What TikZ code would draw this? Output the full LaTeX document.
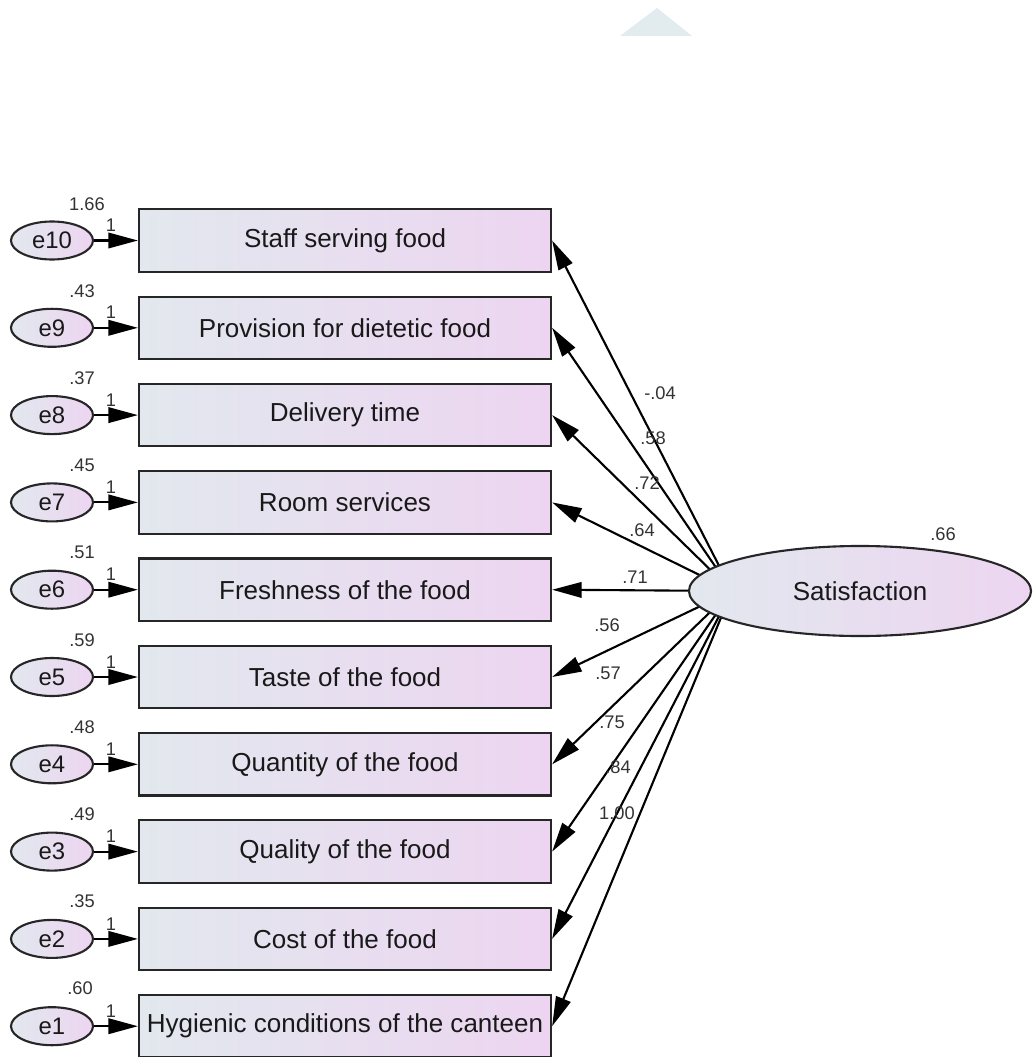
\documentclass[tikz,border=0pt]{standalone}
\usepackage{fontspec}
\setmainfont{Liberation Sans}
\usetikzlibrary{shapes.geometric,arrows.meta,backgrounds}
\definecolor{shadeL}{RGB}{226,232,238}
\definecolor{shadeR}{RGB}{237,213,241}
\definecolor{wmark}{RGB}{226,235,237}
\tikzset{
	obsbox/.style={draw=black!85, line width=1.5pt, rectangle, minimum width=10.3cm, minimum height=1.56cm, inner sep=0pt, left color=shadeL, right color=shadeR, text=black!90, font=\fontsize{18.5}{22}\selectfont},
	errnode/.style={draw=black!85, line width=1.5pt, ellipse, minimum width=2.05cm, minimum height=0.95cm, inner sep=0pt, left color=shadeL, right color=shadeR, text=black!90, font=\fontsize{17}{20}\selectfont},
	latent/.style={draw=black!85, line width=1.5pt, ellipse, minimum width=8.55cm, minimum height=2.25cm, inner sep=0pt, left color=shadeL, right color=shadeR, text=black!90, font=\fontsize{18.5}{22}\selectfont},
	num/.style={font=\fontsize{13}{15}\selectfont, text=black!80, inner sep=1pt},
	regarrow/.style={line width=1.5pt, -{Triangle[length=21pt,width=11pt]}}
}

\begin{document}
\begin{tikzpicture}[x=0.025cm, y=-0.025cm]
		\useasboundingbox (0,0) rectangle (1034,1057);
		% faint mark at the top
		\fill[wmark] (657,8) -- (692,36) -- (620,36) -- cycle;

		% observed variables
		\node[obsbox] (b10) at (345,240.5) {Staff serving food};
		\node[obsbox] (b9) at (345,327.8) {Provision for dietetic food};
		\node[obsbox] (b8) at (345,415.1) {Delivery time};
		\node[obsbox] (b7) at (345,502.4) {Room services};
		\node[obsbox] (b6) at (345,589.7) {Freshness of the food};
		\node[obsbox] (b5) at (345,677) {Taste of the food};
		\node[obsbox] (b4) at (345,764.3) {Quantity of the food};
		\node[obsbox] (b3) at (345,851.6) {Quality of the food};
		\node[obsbox] (b2) at (345,938.9) {Cost of the food};
		\node[obsbox] (b1) at (345,1026.2) {Hygienic conditions of the canteen};

		% error terms
		\node[errnode] (e10) at (52,240.5) {e10};
		\node[errnode] (e9) at (52,327.8) {e9};
		\node[errnode] (e8) at (52,415.1) {e8};
		\node[errnode] (e7) at (52,502.4) {e7};
		\node[errnode] (e6) at (52,589.7) {e6};
		\node[errnode] (e5) at (52,677) {e5};
		\node[errnode] (e4) at (52,764.3) {e4};
		\node[errnode] (e3) at (52,851.6) {e3};
		\node[errnode] (e2) at (52,938.9) {e2};
		\node[errnode] (e1) at (52,1026.2) {e1};

		\draw[regarrow] (e10) -- (b10);
		\draw[regarrow] (e9) -- (b9);
		\draw[regarrow] (e8) -- (b8);
		\draw[regarrow] (e7) -- (b7);
		\draw[regarrow] (e6) -- (b6);
		\draw[regarrow] (e5) -- (b5);
		\draw[regarrow] (e4) -- (b4);
		\draw[regarrow] (e3) -- (b3);
		\draw[regarrow] (e2) -- (b2);
		\draw[regarrow] (e1) -- (b1);

		% variances and fixed weights
		\node[num] (v10) at (87,204) {1.66};
		\node[num] (v9) at (82,291) {.43};
		\node[num] (v8) at (82,378) {.37};
		\node[num] (v7) at (82,465) {.45};
		\node[num] (v6) at (82,552) {.51};
		\node[num] (v5) at (82,640) {.59};
		\node[num] (v4) at (82,727) {.48};
		\node[num] (v3) at (82,814) {.49};
		\node[num] (v2) at (82,901) {.35};
		\node[num] (v1) at (80,988) {.60};
		\node[num] (w10) at (111,225) {1};
		\node[num] (w9) at (111,312) {1};
		\node[num] (w8) at (111,400) {1};
		\node[num] (w7) at (111,487) {1};
		\node[num] (w6) at (111,574) {1};
		\node[num] (w5) at (111,662) {1};
		\node[num] (w4) at (111,749) {1};
		\node[num] (w3) at (111,836) {1};
		\node[num] (w2) at (111,924) {1};
		\node[num] (w1) at (111,1011) {1};

		% latent factor
		\node[latent] (sat) at (860,591) {Satisfaction};
		\node[num] (vsat) at (943,534) {.66};
		\coordinate (hub) at (732,591);

		\begin{scope}[on background layer]
			\draw[regarrow] (hub) -- (b10.east);
			\draw[regarrow] (hub) -- (b9.east);
			\draw[regarrow] (hub) -- (b8.east);
			\draw[regarrow] (hub) -- (b7.east);
			\draw[regarrow] (hub) -- (b6.east);
			\draw[regarrow] (hub) -- (b5.east);
			\draw[regarrow] (hub) -- (b4.east);
			\draw[regarrow] (hub) -- (b3.east);
			\draw[regarrow] (hub) -- (b2.east);
			\draw[regarrow] (hub) -- (b1.east);
		\end{scope}

		% loadings
		\node[num] (l10) at (660,393) {-.04};
		\node[num] (l9) at (653,438) {.58};
		\node[num] (l8) at (647,483) {.72};
		\node[num] (l7) at (642,530) {.64};
		\node[num] (l6) at (635,577) {.71};
		\node[num] (l5) at (607,625) {.56};
		\node[num] (l4) at (608,673) {.57};
		\node[num] (l3) at (612,722) {.75};
		\node[num] (l2) at (618,767) {.84};
		\node[num] (l1) at (617,813) {1.00};
	\end{tikzpicture}
\end{document}
